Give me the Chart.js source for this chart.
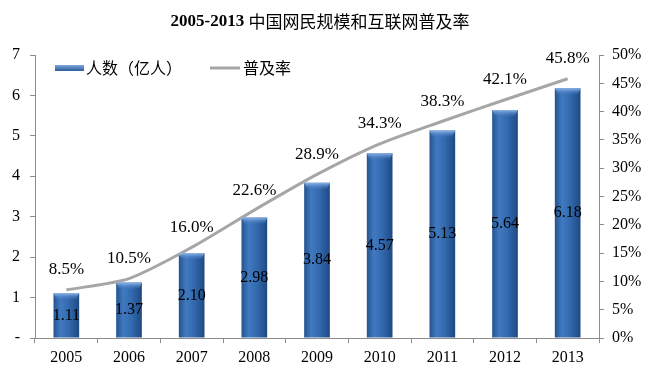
<!DOCTYPE html>
<html>
<head>
<meta charset="utf-8">
<script src="https://cdn.jsdelivr.net/npm/chart.js@4/dist/chart.umd.min.js"></script>
<style>
    html, body { margin: 0; padding: 0; background: #ffffff; }
    #wrap { width: 645px; height: 368px; }
</style>
</head>
<body>
<div id="wrap"><canvas id="chart" width="645" height="368"></canvas></div>
<script>
const years = ["2005", "2006", "2007", "2008", "2009", "2010", "2011", "2012", "2013"];
const users = [1.11, 1.37, 2.10, 2.98, 3.84, 4.57, 5.13, 5.64, 6.18];
const rates = [8.5, 10.5, 16.0, 22.6, 28.9, 34.3, 38.3, 42.1, 45.8];
const titleYears = "2005-2013";
const titleText = "中国网民规模和互联网普及率";
const barLabel = "人数（亿人）";
const lineLabel = "普及率";

const serif = "'Liberation Serif', 'Times New Roman', 'Noto Sans CJK SC', serif";
const cjk = "'Noto Sans CJK SC', sans-serif";
const axisGray = "#8c8c8c";

function barGradient(context) {
    const chart = context.chart;
    if (!chart.chartArea || context.dataIndex === undefined) return "#2f66ab";
    const x = chart.scales.x.getPixelForValue(context.dataIndex);
    const half = 13;
    const g = chart.ctx.createLinearGradient(x - half, 0, x + half, 0);
    g.addColorStop(0, "#23538e");
    g.addColorStop(0.28, "#4179c0");
    g.addColorStop(0.6, "#3369ae");
    g.addColorStop(1, "#1e4982");
    return g;
}

const overlay = {
    id: "overlay",
    afterDatasetsDraw(chart) {
        const ctx = chart.ctx;
        const bars = chart.getDatasetMeta(1).data;
        const points = chart.getDatasetMeta(0).data;

        // bevel on top of each bar
        bars.forEach((bar) => {
            const half = bar.width / 2;
            const g = ctx.createLinearGradient(0, bar.y, 0, bar.y + 7);
            g.addColorStop(0, "#8fb6e8");
            g.addColorStop(1, "rgba(65,121,192,0)");
            ctx.save();
            ctx.fillStyle = g;
            ctx.beginPath();
            ctx.moveTo(bar.x - half, bar.y);
            ctx.lineTo(bar.x + half, bar.y);
            ctx.lineTo(bar.x + half - 3, bar.y + 7);
            ctx.lineTo(bar.x - half + 3, bar.y + 7);
            ctx.closePath();
            ctx.fill();
            ctx.restore();
        });

        ctx.save();
        ctx.fillStyle = "#000000";
        ctx.textAlign = "center";
        ctx.textBaseline = "middle";
        ctx.font = "16px " + serif;
        bars.forEach((bar, i) => {
            ctx.fillText(users[i].toFixed(2), bar.x, (bar.y + bar.base) / 2);
        });
        ctx.font = "17px " + serif;
        points.forEach((pt, i) => {
            ctx.fillText(rates[i].toFixed(1) + "%", pt.x, pt.y - 20);
        });

        // title: bold serif years, regular CJK text
        ctx.textAlign = "left";
        ctx.font = "bold 17px " + serif;
        const w1 = ctx.measureText(titleYears + " ").width;
        ctx.font = "17px " + cjk;
        const w2 = ctx.measureText(titleText).width;
        const start = 320 - (w1 + w2) / 2;
        ctx.font = "bold 17px " + serif;
        ctx.fillText(titleYears, start, 22);
        ctx.font = "17px " + cjk;
        ctx.fillText(titleText, start + w1, 22);

        // legend
        const lg = ctx.createLinearGradient(0, 65, 0, 71);
        lg.addColorStop(0, "#7fa8dc");
        lg.addColorStop(1, "#2a5b99");
        ctx.fillStyle = lg;
        ctx.fillRect(55, 65, 29, 6);
        ctx.fillStyle = "#000000";
        ctx.font = "16px " + cjk;
        ctx.fillText(barLabel, 86, 68);
        ctx.strokeStyle = "#a6a6a6";
        ctx.lineWidth = 3;
        ctx.beginPath();
        ctx.moveTo(210, 68);
        ctx.lineTo(240, 68);
        ctx.stroke();
        ctx.fillText(lineLabel, 243, 68);
        ctx.restore();
    }
};

new Chart(document.getElementById("chart"), {
    data: {
        labels: years,
        datasets: [
            {
                type: "line",
                label: lineLabel,
                data: rates,
                yAxisID: "y1",
                borderColor: "#a6a6a6",
                borderWidth: 3,
                pointRadius: 0,
                tension: 0.25,
                order: 0
            },
            {
                type: "bar",
                label: barLabel,
                data: users,
                yAxisID: "y",
                backgroundColor: barGradient,
                borderWidth: 0,
                barPercentage: 0.41,
                categoryPercentage: 1,
                order: 1
            }
        ]
    },
    options: {
        responsive: false,
        animation: false,
        layout: { padding: { top: 55, left: 0, right: 0, bottom: 0 } },
        plugins: { legend: { display: false }, title: { display: false }, tooltip: { enabled: false } },
        scales: {
            x: {
                afterFit: (scale) => { scale.height = 30; },
                grid: { drawOnChartArea: false, color: axisGray, tickLength: 5, offset: true },
                border: { color: axisGray },
                ticks: { color: "#000000", padding: 5, font: { family: serif, size: 16 } }
            },
            y: {
                position: "left",
                min: 0,
                max: 7,
                afterFit: (scale) => { scale.width = 35; },
                grid: { drawOnChartArea: false, color: axisGray, tickLength: 5 },
                border: { color: axisGray },
                ticks: {
                    stepSize: 1,
                    color: "#000000",
                    padding: 10,
                    font: { family: serif, size: 16 },
                    callback: (value) => (value === 0 ? "-" : value)
                }
            },
            y1: {
                position: "right",
                min: 0,
                max: 50,
                afterFit: (scale) => { scale.width = 46; },
                grid: { drawOnChartArea: false, color: axisGray, tickLength: 5 },
                border: { color: axisGray },
                ticks: {
                    stepSize: 5,
                    color: "#000000",
                    padding: 8,
                    font: { family: serif, size: 16 },
                    callback: (value) => value + "%"
                }
            }
        }
    },
    plugins: [overlay]
});
</script>
</body>
</html>
